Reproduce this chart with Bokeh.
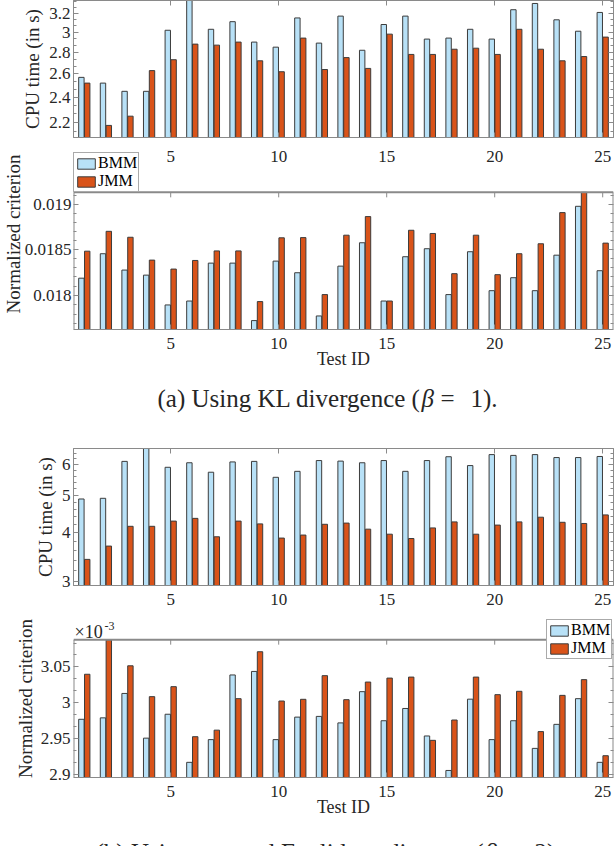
from bokeh.plotting import figure
from bokeh.layouts import column
from bokeh.models import (ColumnDataSource, Range1d, FixedTicker, LinearAxis, LogAxis, Label,
                          BasicTickFormatter, LinearScale, Title)
from bokeh.core.properties import value
from bokeh.transform import dodge
from bokeh.embed import file_html
from bokeh.resources import INLINE

# test ids on the x axis
test_id = list(range(1, 26))
x_ticks = [5, 10, 15, 20, 25]
x_labels = ["5", "10", "15", "20", "25"]

# (a) KL divergence, CPU time in s
cpu_kl_bmm = [2.57, 2.52, 2.45, 2.45, 3.02, 3.40, 3.03, 3.11, 2.90, 2.85, 3.15, 2.89, 3.17,
              2.82, 3.08, 3.17, 2.93, 2.94, 3.03, 2.93, 3.24, 3.31, 3.13, 3.01, 3.21]
cpu_kl_jmm = [2.52, 2.18, 2.25, 2.63, 2.73, 2.88, 2.87, 2.90, 2.72, 2.62, 2.94, 2.64, 2.75,
              2.65, 2.98, 2.78, 2.78, 2.83, 2.84, 2.78, 3.03, 2.83, 2.72, 2.76, 2.95]

# (a) KL divergence, normalized criterion
crit_kl_bmm = [0.018185, 0.018452, 0.018273, 0.018218, 0.017897, 0.017939, 0.018349, 0.018349,
               0.017731, 0.018371, 0.018244, 0.017780, 0.018316, 0.018573, 0.017939, 0.018419,
               0.018507, 0.018008, 0.018474, 0.018050, 0.018190, 0.018050, 0.018436, 0.018981,
               0.018266]
crit_kl_jmm = [0.018480, 0.018700, 0.018634, 0.018382, 0.018284, 0.018378, 0.018483, 0.018483,
               0.017933, 0.018628, 0.018630, 0.018008, 0.018657, 0.018865, 0.017939, 0.018712,
               0.018676, 0.018234, 0.018657, 0.018223, 0.018452, 0.018562, 0.018910, 0.019140,
               0.018569]

# (b) squared Euclidean, CPU time in s
cpu_eu_bmm = [4.89, 4.91, 6.11, 6.70, 5.90, 6.06, 5.73, 6.09, 6.11, 5.56, 5.76, 6.14, 6.12,
              6.06, 6.14, 5.76, 6.14, 6.28, 5.96, 6.36, 6.33, 6.36, 6.25, 6.25, 6.29]
cpu_eu_jmm = [3.42, 3.70, 4.16, 4.16, 4.29, 4.36, 3.91, 4.29, 4.22, 3.88, 3.95, 4.21, 4.24,
              4.09, 3.97, 3.87, 4.12, 4.27, 3.97, 4.19, 4.27, 4.39, 4.26, 4.23, 4.45]

# (b) squared Euclidean, normalized criterion (x 10^-3)
crit_eu_bmm = [2.976, 2.978, 3.012, 2.950, 2.983, 2.917, 2.948, 3.038, 3.043, 2.948, 2.979,
               2.980, 2.971, 3.0145, 2.974, 2.991, 2.953, 2.906, 3.004, 2.948, 2.974, 2.936,
               2.969, 3.0047, 2.917]
crit_eu_jmm = [3.039, 3.088, 3.051, 3.0075, 3.0215, 2.952, 2.961, 3.0047, 3.071, 3.0014, 3.0038,
               3.037, 3.0033, 3.028, 3.0336, 3.035, 2.947, 2.975, 3.035, 3.0103, 3.015, 2.959,
               3.0093, 3.0314, 2.926]

# y ticks for each panel
cpu_kl_ticks = [2.2, 2.4, 2.6, 2.8, 3.0, 3.2]
cpu_kl_labels = ["2.2", "2.4", "2.6", "2.8", "3", "3.2"]
cpu_kl_minor = [2.133, 2.267, 2.333, 2.467, 2.533, 2.667, 2.733, 2.867, 2.933, 3.067, 3.133,
                3.267, 3.333]
crit_kl_ticks = [0.018, 0.0185, 0.019]
crit_kl_labels = ["0.018", "0.0185", "0.019"]
crit_kl_minor = [0.0177, 0.0178, 0.0179, 0.0181, 0.0182, 0.0183, 0.0184, 0.0186, 0.0187,
                 0.0188, 0.0189, 0.0191]
cpu_eu_ticks = [3, 4, 5, 6]
cpu_eu_labels = ["3", "4", "5", "6"]
cpu_eu_minor = [3.2, 3.4, 3.6, 3.8, 4.2, 4.4, 4.6, 4.8, 5.2, 5.4, 5.6, 5.8, 6.2, 6.4]
crit_eu_ticks = [2.9, 2.95, 3.0, 3.05]
crit_eu_labels = ["2.9", "2.95", "3", "3.05"]
crit_eu_minor = [2.9167, 2.9333, 2.9667, 2.9833, 3.0167, 3.0333, 3.0667, 3.0833]

FONT = "Liberation Serif"
AXIS = "#8a8a8a"
INK = "#262626"
BMM_COLOR = "#b8e1f7"
JMM_COLOR = "#d95319"
EDGE = "#3c3c3c"


def style_axis(ax, ticks, minor, labels=None):
    ax.ticker = FixedTicker(ticks=ticks, minor_ticks=minor)
    ax.axis_line_color = AXIS
    ax.major_tick_line_color = AXIS
    ax.minor_tick_line_color = AXIS
    ax.major_tick_in = 5
    ax.major_tick_out = 0
    ax.minor_tick_in = 3
    ax.minor_tick_out = 0
    if labels is None:
        ax.major_label_text_color = None
        ax.major_label_text_font_size = "1px"
        ax.major_label_standoff = 0
    else:
        ax.formatter = BasicTickFormatter()
        ax.major_label_overrides = {t: s for t, s in zip(ticks, labels)}
        ax.major_label_text_font = FONT
        ax.major_label_text_font_size = "17px"
        ax.major_label_text_color = INK


def panel(height, top_border, bottom_border, bmm, jmm, ylo, yhi, yticks, ylabels, yminor,
          xlabels=True, xlabel=None, box_top=None, tick_factor=1.003, legend=False):
    src = ColumnDataSource(data=dict(id=test_id, bmm=bmm, jmm=jmm))
    p = figure(width=614, height=height, x_range=Range1d(0.5, 25.5), y_range=Range1d(ylo, yhi),
               y_axis_type="log", output_backend="svg", toolbar_location=None,
               min_border_left=73, min_border_right=1, min_border_top=top_border,
               min_border_bottom=bottom_border)
    extra1 = dict(legend_label="BMM") if legend else {}
    extra2 = dict(legend_label="JMM") if legend else {}
    p.vbar(x=dodge("id", -0.135, range=p.x_range), top="bmm", bottom=ylo * 0.5, width=0.25,
           source=src, fill_color=BMM_COLOR, line_color=EDGE, line_width=1, **extra1)
    p.vbar(x=dodge("id", 0.135, range=p.x_range), top="jmm", bottom=ylo * 0.5, width=0.25,
           source=src, fill_color=JMM_COLOR, line_color=EDGE, line_width=1, **extra2)
    p.xgrid.visible = False
    p.ygrid.visible = False

    xa = p.xaxis[0]
    style_axis(xa, x_ticks, [], x_labels if xlabels else None)
    if xlabels:
        xa.major_label_standoff = 8
    if xlabel:
        xa.axis_label = xlabel
        xa.axis_label_text_font = FONT
        xa.axis_label_text_font_size = "18px"
        xa.axis_label_text_font_style = "normal"
        xa.axis_label_text_color = INK
        xa.axis_label_standoff = -3

    ya = p.yaxis[0]
    style_axis(ya, yticks, yminor, ylabels)
    ya.major_label_standoff = 3

    right = LogAxis()
    style_axis(right, yticks, yminor)
    p.add_layout(right, "right")

    if box_top is None:
        p.outline_line_color = AXIS
        top = LinearAxis()
        style_axis(top, x_ticks, [])
        p.add_layout(top, "above")
    else:
        # frame reaches above the box, so the box edges are drawn by hand
        p.outline_line_color = None
        ya.axis_line_color = None
        right.axis_line_color = None
        p.segment(x0=[0.5, 25.5, 0.5], y0=[ylo, ylo, box_top], x1=[0.5, 25.5, 25.5],
                  y1=[box_top, box_top, box_top], line_color=AXIS, line_width=2)
        p.segment(x0=x_ticks, y0=[box_top] * 5, x1=x_ticks, y1=[box_top / tick_factor] * 5,
                  line_color=AXIS, line_width=1)
    return p


def y_title(p, text, standoff=0, offset=0, use_title=False):
    if use_title:
        p.add_layout(Title(text=text, align="center", offset=offset, standoff=standoff,
                           text_font=FONT, text_font_size="19px", text_font_style="normal",
                           text_color=INK), "left")
    else:
        ya = p.yaxis[0]
        ya.axis_label = text
        ya.axis_label_text_font = FONT
        ya.axis_label_text_font_size = "19px"
        ya.axis_label_text_font_style = "normal"
        ya.axis_label_text_color = INK
        ya.axis_label_standoff = standoff


def style_legend(p, loc):
    lg = p.legend[0]
    lg.location = loc
    lg.label_text_font = FONT
    lg.label_text_font_size = "16px"
    lg.label_text_color = "black"
    lg.label_height = 17
    lg.glyph_width = 22
    lg.glyph_height = 13
    lg.label_standoff = 1
    lg.padding = 1
    lg.spacing = 0
    lg.margin = 0
    lg.border_line_color = "#555555"
    lg.background_fill_alpha = 1


def caption(height, pieces, yc):
    # x data units equal page pixels
    c = figure(width=614, height=height, x_range=Range1d(73, 613), y_range=Range1d(0, height),
               output_backend="svg", toolbar_location=None, min_border_left=73,
               min_border_right=1, min_border_top=0, min_border_bottom=0,
               x_axis_location=None, y_axis_location=None)
    c.outline_line_color = None
    c.grid.visible = False
    for s, x, style in pieces:
        c.add_layout(Label(x=x, y=yc, text=s, text_font=FONT, text_font_size="25px",
                           text_color=INK, text_align="left", text_baseline="middle",
                           text_font_style=style))
    return c


# (a) CPU time; its tick labels are drawn in the top strip of a2
a1 = panel(138, 0, 1, cpu_kl_bmm, cpu_kl_jmm, 2.0916, 3.344, cpu_kl_ticks, cpu_kl_labels,
           cpu_kl_minor, xlabels=False)
y_title(a1, "CPU time (in s)", standoff=3)

# (a) criterion; frame reaches 54px above the box for the legend and a1 tick labels
a2 = panel(237, 0, 46, crit_kl_bmm, crit_kl_jmm, 0.017637, 0.019764, crit_kl_ticks,
           crit_kl_labels, crit_kl_minor, xlabel="Test ID", box_top=0.01914, tick_factor=1.003,
           legend=True)
a2.yaxis[0].major_label_standoff = 2
style_legend(a2, (0, 137))
y_title(a2, "Normalized criterion", standoff=-5, offset=-26, use_title=True)
a2.extra_y_ranges = {"px": Range1d(0, 191)}
a2.extra_y_scales = {"px": LinearScale()}
a2.text(x=x_ticks, y=[173.5] * 5, text=x_labels, y_range_name="px", text_font=value(FONT),
        text_font_size="17px", text_color=INK, text_align="center", text_baseline="middle")

cap_a = caption(55, [("(a) Using KL divergence (", 157, "normal"), ("\u03b2", 421, "italic"),
                     ("=", 440, "normal"), ("1).", 470, "normal")], 32)

# (b) CPU time
b1 = panel(185, 18, 30, cpu_eu_bmm, cpu_eu_jmm, 2.930, 6.594, cpu_eu_ticks, cpu_eu_labels,
           cpu_eu_minor)
y_title(b1, "CPU time (in s)", standoff=3)

# (b) criterion; frame reaches 20px above the box for legend and exponent
b2 = panel(208, 4, 46, crit_eu_bmm, crit_eu_jmm, 2.8965, 3.1174, crit_eu_ticks, crit_eu_labels,
           crit_eu_minor, xlabel="Test ID", box_top=3.0882, tick_factor=1.0023, legend=True)
style_legend(b2, (473, 118))
y_title(b2, "Normalized criterion", standoff=3, offset=-10, use_title=True)
b2.add_layout(Label(x=1, y=145.6, x_units="screen", y_units="screen", text="\u00d710",
                    text_font=FONT, text_font_size="18px", text_color=INK,
                    text_baseline="middle"))
b2.add_layout(Label(x=31, y=151.3, x_units="screen", y_units="screen", text="-3",
                    text_font=FONT, text_font_size="12px", text_color=INK,
                    text_baseline="middle"))

cap_b = caption(23, [("(b) Using squared Euclidean distance (", 95, "normal"),
                     ("\u03b2", 484, "italic"), ("=", 504, "normal"), ("2).", 534, "normal")], -6)

layout = column(a1, a2, cap_a, b1, b2, cap_b)
open("out.html", "w").write(file_html(layout, INLINE))
